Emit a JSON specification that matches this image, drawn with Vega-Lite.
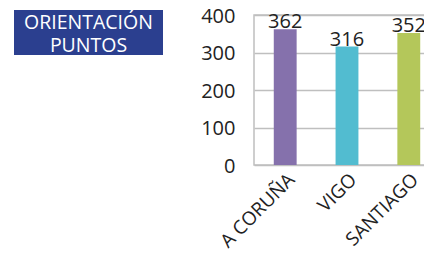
{
  "$schema": "https://vega.github.io/schema/vega-lite/v6.json",
  "padding": {"left": 14, "top": 4, "right": 0, "bottom": 0},
  "spacing": 36,
  "background": "white",
  "config": {"font": "Open Sans"},
  "datasets": {
    "title": [{"line": "ORIENTACIÓN"}, {"line": "PUNTOS"}],
    "pts": [
      {"ciudad": "A CORUÑA", "puntos": 362},
      {"ciudad": "VIGO", "puntos": 316},
      {"ciudad": "SANTIAGO", "puntos": 352}
    ]
  },
  "hconcat": [
    {
      "width": 149,
      "height": 45,
      "view": {"fill": "#2B3F8F", "stroke": null},
      "data": {"name": "title"},
      "mark": {"type": "text", "color": "white", "fontSize": 19.5, "font": "Open Sans", "baseline": "alphabetic", "dy": 8},
      "encoding": {
        "y": {"field": "line", "type": "nominal", "sort": null, "axis": null, "scale": {"type": "point", "padding": 0.478}},
        "text": {"field": "line"}
      }
    },
    {
      "bounds": "flush",
      "spacing": 4,
      "vconcat": [
        {
          "width": 186,
          "height": 1,
          "view": {"stroke": null},
          "data": {"values": [{"t": ""}]},
          "mark": {"type": "text"},
          "encoding": {"text": {"field": "t"}}
        },
        {
          "width": 186,
          "height": 150,
          "view": {"stroke": "#BFBFBF", "strokeWidth": 1.5},
          "data": {"name": "pts"},
          "encoding": {
            "x": {
              "field": "ciudad", "type": "nominal", "sort": null, "title": null,
              "scale": {"paddingInner": 0.63, "paddingOuter": 0.32},
              "axis": {"labelAngle": -45, "labelFontSize": 19, "labelColor": "#222", "ticks": false, "domain": false, "labelPadding": 5, "labelFont": "Open Sans"}
            },
            "y": {
              "field": "puntos", "type": "quantitative", "title": null,
              "scale": {"domain": [0, 400], "nice": false},
              "axis": {"values": [0, 100, 200, 300, 400], "labelFontSize": 20, "labelColor": "#222", "ticks": false, "domain": false, "labelPadding": 19, "labelOffset": 1, "gridColor": "#BFBFBF", "gridWidth": 1.5, "labelFont": "Open Sans"}
            }
          },
          "layer": [
            {
              "mark": {"type": "bar"},
              "encoding": {
                "color": {
                  "field": "ciudad", "type": "nominal", "sort": null, "legend": null,
                  "scale": {"domain": ["A CORUÑA", "VIGO", "SANTIAGO"], "range": ["#8571AC", "#52BCD0", "#B4C75A"]}
                }
              }
            },
            {
              "mark": {"type": "text", "baseline": "bottom", "fontSize": 20, "color": "#222", "dy": 3, "font": "Open Sans"},
              "encoding": {"text": {"field": "puntos", "type": "quantitative"}}
            }
          ]
        }
      ]
    }
  ]
}
